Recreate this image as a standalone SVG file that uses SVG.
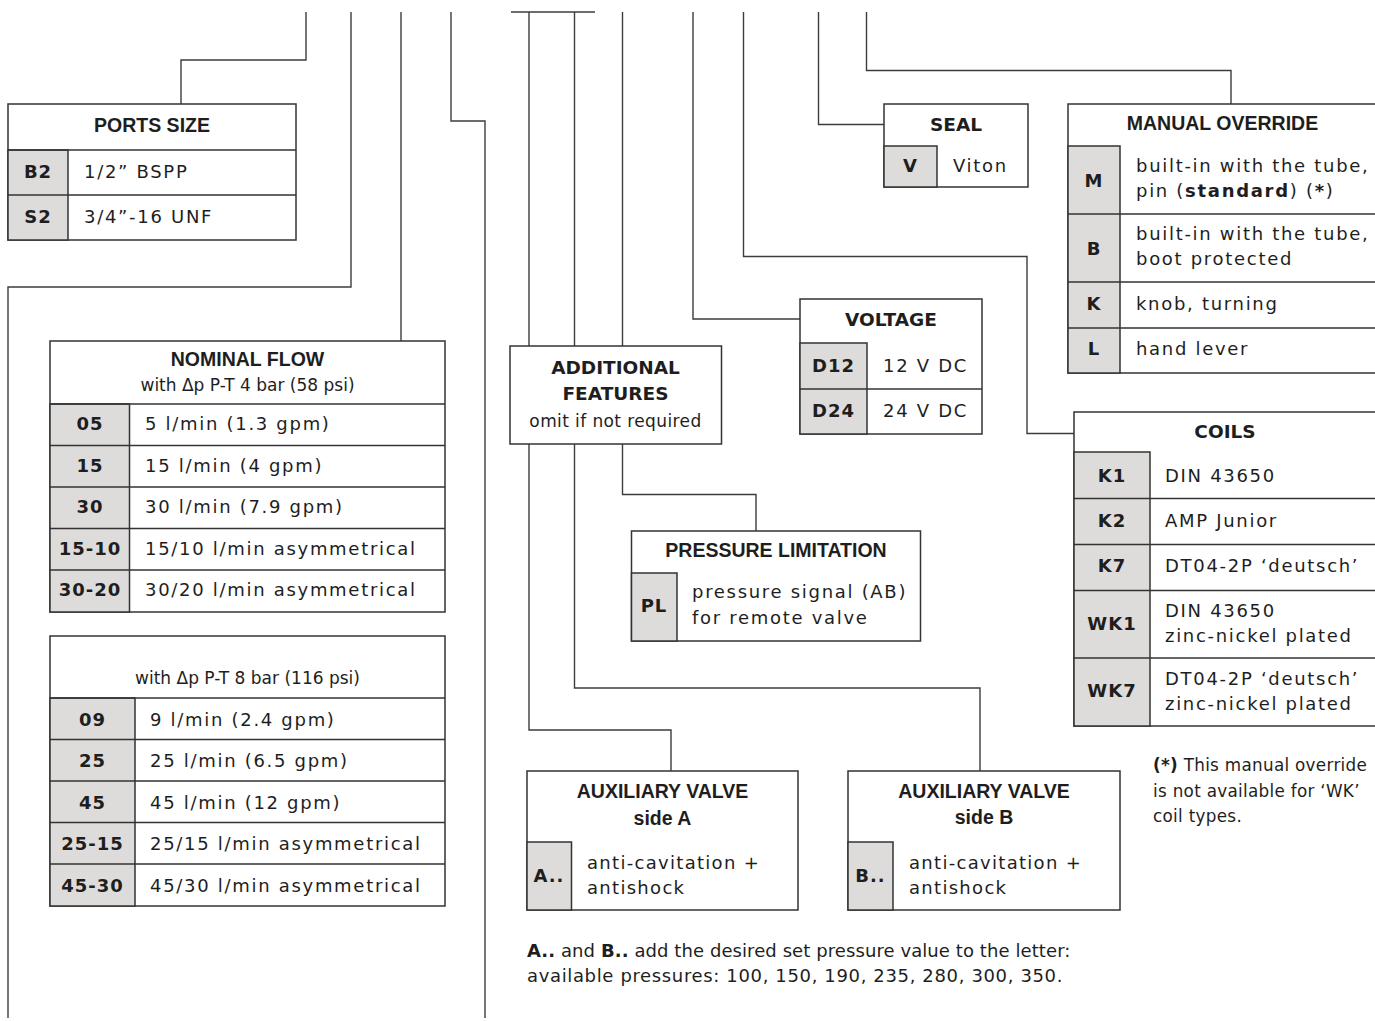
<svg xmlns="http://www.w3.org/2000/svg" width="1375" height="1021" viewBox="0 0 1375 1021">
<style>
.c{fill:none;stroke:#3c3c3c;stroke-width:1.4}
.b{fill:#fff;stroke:#333;stroke-width:1.5}
.g{fill:#dddcda;stroke:#333;stroke-width:1.5}
.l{fill:none;stroke:#333;stroke-width:1.5}
text{fill:#1e1e1e}
.hd{font-family:"Liberation Sans",Arial,sans-serif;font-weight:bold;font-size:19.5px;text-anchor:middle}
.hv{font-family:"DejaVu Sans",Verdana,sans-serif;font-weight:bold;font-size:18.5px;text-anchor:middle}
.k{font-family:"DejaVu Sans",Verdana,sans-serif;font-weight:bold;font-size:18px;letter-spacing:1px;text-anchor:middle}
.v{font-family:"DejaVu Sans",Verdana,sans-serif;font-size:18px;letter-spacing:1.7px}
.v2{font-family:"DejaVu Sans",Verdana,sans-serif;font-size:18px;letter-spacing:1.3px}
.s{font-family:"DejaVu Sans",Verdana,sans-serif;font-size:17px;text-anchor:middle}
.n{font-family:"DejaVu Sans",Verdana,sans-serif;font-size:18px;letter-spacing:0.6px}
.f{font-family:"DejaVu Sans",Verdana,sans-serif;font-size:16.8px;letter-spacing:0.3px}
.bd{font-weight:bold}
</style>
<rect width="1375" height="1021" fill="#fff"/>
<g id="connectors" class="c">
<path d="M306,12V60H181V104"/>
<path d="M351,12V287H8V1018"/>
<path d="M401,12V341"/>
<path d="M451,12V121H485V1018"/>
<path d="M511,12H595"/>
<path d="M529,12V730H671V771"/>
<path d="M574.5,12V688H980V771"/>
<path d="M622.5,12V494.5H756V531"/>
<path d="M693,12V319H800"/>
<path d="M743.5,12V256.5H1027V433.5H1074"/>
<path d="M818.5,12V124.5H884"/>
<path d="M866.5,12V70.5H1231V104"/>
</g>
<g id="ports-size">
<rect class="b" x="8" y="104" width="288" height="136"/>
<rect class="g" x="8" y="150" width="60" height="90"/>
<path class="l" d="M8,150H296M8,195H296"/>
<text class="hd" x="152" y="132">PORTS SIZE</text>
<text class="k" x="38" y="177.5">B2</text>
<text class="v" x="84" y="177.5">1/2” BSPP</text>
<text class="k" x="38" y="223">S2</text>
<text class="v" x="84" y="223">3/4”-16 UNF</text>
</g>
<g id="nominal-flow">
<rect class="b" x="50" y="341" width="395" height="271"/>
<rect class="g" x="50" y="404" width="79.5" height="208"/>
<path class="l" d="M50,404H445M50,445.5H445M50,487H445M50,528.5H445M50,570H445"/>
<text class="hd" x="247.5" y="366">NOMINAL FLOW</text>
<text class="s" x="247.5" y="391">with Δp P-T 4 bar (58 psi)</text>
<text class="k" x="90" y="430">05</text><text class="v" x="145" y="430">5 l/min (1.3 gpm)</text>
<text class="k" x="90" y="471.5">15</text><text class="v" x="145" y="471.5">15 l/min (4 gpm)</text>
<text class="k" x="90" y="513">30</text><text class="v" x="145" y="513">30 l/min (7.9 gpm)</text>
<text class="k" x="90" y="554.5">15-10</text><text class="v" x="145" y="554.5">15/10 l/min asymmetrical</text>
<text class="k" x="90" y="596">30-20</text><text class="v" x="145" y="596">30/20 l/min asymmetrical</text>
</g>
<g id="nominal-flow-8bar">
<rect class="b" x="50" y="636" width="395" height="270"/>
<rect class="g" x="50" y="698" width="85" height="208"/>
<path class="l" d="M50,698H445M50,739.5H445M50,781H445M50,822.5H445M50,864H445"/>
<text class="s" x="247.5" y="684">with Δp P-T 8 bar (116 psi)</text>
<text class="k" x="92.5" y="725.5">09</text><text class="v" x="150" y="725.5">9 l/min (2.4 gpm)</text>
<text class="k" x="92.5" y="767">25</text><text class="v" x="150" y="767">25 l/min (6.5 gpm)</text>
<text class="k" x="92.5" y="808.5">45</text><text class="v" x="150" y="808.5">45 l/min (12 gpm)</text>
<text class="k" x="92.5" y="850">25-15</text><text class="v" x="150" y="850">25/15 l/min asymmetrical</text>
<text class="k" x="92.5" y="891.5">45-30</text><text class="v" x="150" y="891.5">45/30 l/min asymmetrical</text>
</g>
<g id="additional-features">
<rect class="b" x="510" y="346" width="211.5" height="98"/>
<text class="hv" x="615.5" y="374">ADDITIONAL</text>
<text class="hv" x="615.5" y="400">FEATURES</text>
<text class="s" x="615.5" y="427" style="letter-spacing:0.4px">omit if not required</text>
</g>
<g id="pressure-limitation">
<rect class="b" x="631.5" y="531" width="289" height="110"/>
<rect class="g" x="631.5" y="573" width="45.5" height="68"/>
<text class="hd" x="776" y="557">PRESSURE LIMITATION</text>
<text class="k" x="654" y="612">PL</text>
<text class="v" x="692" y="598">pressure signal (AB)</text>
<text class="v" x="692" y="624">for remote valve</text>
</g>
<g id="voltage">
<rect class="b" x="800" y="299" width="182" height="135"/>
<rect class="g" x="800" y="343" width="67" height="91"/>
<path class="l" d="M800,389H982"/>
<text class="hv" x="891" y="326">VOLTAGE</text>
<text class="k" x="833.5" y="371.5">D12</text><text class="v" x="883" y="371.5">12 V DC</text>
<text class="k" x="833.5" y="417">D24</text><text class="v" x="883" y="417">24 V DC</text>
</g>
<g id="seal">
<rect class="b" x="884" y="104" width="144" height="83"/>
<rect class="g" x="884" y="146" width="53" height="41"/>
<text class="hv" x="956" y="131">SEAL</text>
<text class="k" x="910.5" y="172">V</text>
<text class="v" x="953" y="172">Viton</text>
</g>
<g id="manual-override">
<rect class="b" x="1068" y="104" width="308" height="269"/>
<rect class="g" x="1068" y="146" width="52" height="227"/>
<path class="l" d="M1068,214H1376M1068,282H1376M1068,328H1376"/>
<text class="hd" x="1222.5" y="130">MANUAL OVERRIDE</text>
<text class="k" x="1094" y="186.5">M</text>
<text class="v" x="1136" y="172">built-in with the tube,</text>
<text class="v" x="1136" y="197">pin (<tspan class="bd">standard</tspan>) (<tspan class="bd">*</tspan>)</text>
<text class="k" x="1094" y="254.5">B</text>
<text class="v" x="1136" y="239.5">built-in with the tube,</text>
<text class="v" x="1136" y="265">boot protected</text>
<text class="k" x="1094" y="309.5">K</text>
<text class="v" x="1136" y="309.5">knob, turning</text>
<text class="k" x="1094" y="354.5">L</text>
<text class="v" x="1136" y="354.5">hand lever</text>
</g>
<g id="coils">
<rect class="b" x="1074" y="412" width="302" height="314"/>
<rect class="g" x="1074" y="452" width="76" height="274"/>
<path class="l" d="M1074,498.5H1376M1074,544.5H1376M1074,590.5H1376M1074,658H1376"/>
<text class="hv" x="1225" y="438">COILS</text>
<text class="k" x="1112" y="481.5">K1</text><text class="v" x="1165" y="481.5">DIN 43650</text>
<text class="k" x="1112" y="527">K2</text><text class="v" x="1165" y="527">AMP Junior</text>
<text class="k" x="1112" y="572">K7</text><text class="v" x="1165" y="572">DT04-2P ‘deutsch’</text>
<text class="k" x="1112" y="630">WK1</text><text class="v" x="1165" y="616.5">DIN 43650</text><text class="v" x="1165" y="642">zinc-nickel plated</text>
<text class="k" x="1112" y="697">WK7</text><text class="v" x="1165" y="684.5">DT04-2P ‘deutsch’</text><text class="v" x="1165" y="710">zinc-nickel plated</text>
</g>
<g id="footnote">
<text class="f" x="1153" y="771"><tspan class="bd">(*)</tspan> This manual override</text>
<text class="f" x="1153" y="796.5">is not available for ‘WK’</text>
<text class="f" x="1153" y="822">coil types.</text>
</g>
<g id="auxiliary-valve-a">
<rect class="b" x="527" y="771" width="271" height="139"/>
<rect class="g" x="527" y="842" width="44.5" height="68"/>
<text class="hd" x="662.5" y="798">AUXILIARY VALVE</text>
<text class="hd" x="662.5" y="825">side A</text>
<text class="k" x="549" y="881.5">A..</text>
<text class="v2" x="587" y="869">anti-cavitation +</text>
<text class="v2" x="587" y="894">antishock</text>
</g>
<g id="auxiliary-valve-b">
<rect class="b" x="848" y="771" width="272" height="139"/>
<rect class="g" x="848" y="842" width="45" height="68"/>
<text class="hd" x="984" y="798">AUXILIARY VALVE</text>
<text class="hd" x="984" y="824">side B</text>
<text class="k" x="870.5" y="881.5">B..</text>
<text class="v2" x="909" y="869">anti-cavitation +</text>
<text class="v2" x="909" y="894">antishock</text>
</g>
<g id="pressure-note">
<text class="n" x="527" y="957" textLength="544" lengthAdjust="spacing"><tspan class="bd">A..</tspan> and <tspan class="bd">B..</tspan> add the desired set pressure value to the letter:</text>
<text class="n" x="527" y="982" textLength="536" lengthAdjust="spacing">available pressures: 100, 150, 190, 235, 280, 300, 350.</text>
</g>
</svg>
